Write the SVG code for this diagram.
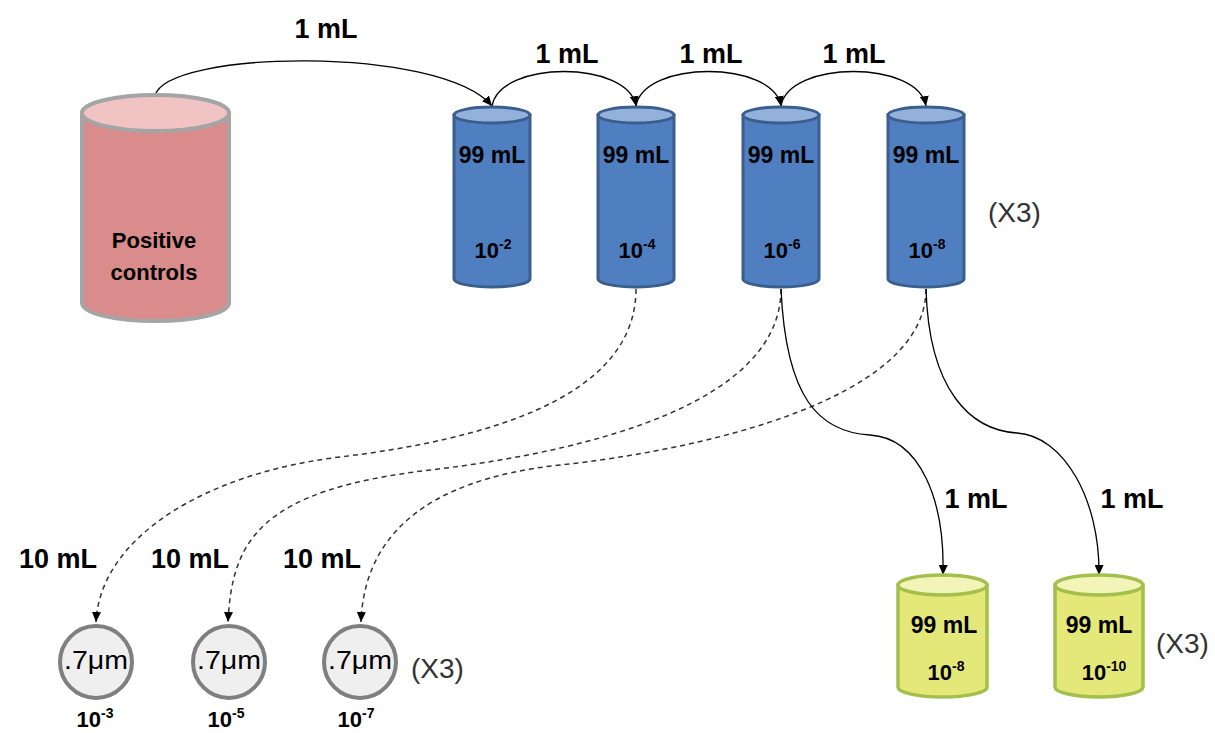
<svg xmlns="http://www.w3.org/2000/svg" width="1215" height="733" viewBox="0 0 1215 733">
<defs>
<marker id="arr" markerUnits="userSpaceOnUse" markerWidth="11" markerHeight="9" refX="10" refY="4.5" orient="auto">
<path d="M0,0 L10,4.5 L0,9 z" fill="#000"/>
</marker>
<style>
text{font-family:"Liberation Sans",Arial,sans-serif;fill:#000}
.lbl{font-size:27px;font-weight:bold;text-anchor:middle}
.vol{font-size:23px;font-weight:bold;text-anchor:middle}
.pc{font-size:22px;font-weight:bold;text-anchor:middle}
.dil{font-size:22px;font-weight:bold;text-anchor:middle}
.sup{font-size:14px}
.x3{font-size:28px;fill:#333}
.mu{font-size:25px;text-anchor:middle}
.blue .body{fill:#4f7fc0;stroke:#3a5f8e;stroke-width:3}
.blue .top{fill:#93b1db;stroke:#3a5f8e;stroke-width:3}
.yel .body{fill:#e4e878;stroke:#a3bf4c;stroke-width:3.5}
.yel .top{fill:#f2f4b8;stroke:#a3bf4c;stroke-width:3.5}
.pink .body{fill:#da8b8b;stroke:#a5a5a5;stroke-width:4}
.pink .top{fill:#f1c3c3;stroke:#a5a5a5;stroke-width:4}
.filt circle{fill:#efefef;stroke:#7f7f7f;stroke-width:4}
.c{fill:none;stroke:#000;stroke-width:1.3;marker-end:url(#arr)}
.d{fill:none;stroke:#333;stroke-width:1.5;stroke-dasharray:5,4;marker-end:url(#arr)}
</style>
</defs>

<g id="connectors">
<path class="c" d="M155,96 C165,50 440,45 492,106"/>
<path class="c" d="M492,106 C500,60 628,60 636,106"/>
<path class="c" d="M636,106 C644,60 773,60 781,106"/>
<path class="c" d="M781,106 C789,60 918,60 926,106"/>
<path class="d" d="M636,289 C636,400 480,440 340,457 C200,474 100,540 96,622"/>
<path class="d" d="M781,289 C781,400 600,450 430,470 C260,490 232,540 228,622"/>
<path class="d" d="M926,289 C926,400 700,450 560,465 C420,480 364,540 361,622"/>
<path class="c" d="M781,289 C786,400 820,432 870,435 C920,438 945,500 943,575"/>
<path class="c" d="M926,289 C929,390 970,430 1017,433 C1064,436 1100,500 1099,575"/>
</g>

<g id="labels-top">
<text class="lbl" x="326" y="38">1 mL</text>
<text class="lbl" x="567" y="63">1 mL</text>
<text class="lbl" x="711" y="63">1 mL</text>
<text class="lbl" x="854" y="63">1 mL</text>
<text class="lbl" x="976" y="508">1 mL</text>
<text class="lbl" x="1132" y="508">1 mL</text>
<text class="lbl" x="58" y="568">10 mL</text>
<text class="lbl" x="190" y="568">10 mL</text>
<text class="lbl" x="322" y="568">10 mL</text>
</g>

<g id="positive-controls" class="pink">
<path class="body" d="M82,113 L82,303 A73,18 0 0 0 229,303 L229,113 Z"/>
<ellipse class="top" cx="155.5" cy="113" rx="73.5" ry="18"/>
<text class="pc" x="154" y="248">Positive</text>
<text class="pc" x="154" y="280">controls</text>
</g>

<g id="tube-1e-2" class="blue">
<path class="body" d="M454,115 L454,279 A38,8 0 0 0 530,279 L530,115 Z"/>
<ellipse class="top" cx="492" cy="115" rx="38" ry="8"/>
<text class="vol" x="492" y="163">99 mL</text>
<text class="dil" x="493" y="258">10<tspan class="sup" dy="-9">-2</tspan></text>
</g>
<g id="tube-1e-4" class="blue">
<path class="body" d="M598,115 L598,279 A38,8 0 0 0 674,279 L674,115 Z"/>
<ellipse class="top" cx="636" cy="115" rx="38" ry="8"/>
<text class="vol" x="636" y="163">99 mL</text>
<text class="dil" x="637" y="258">10<tspan class="sup" dy="-9">-4</tspan></text>
</g>
<g id="tube-1e-6" class="blue">
<path class="body" d="M743,115 L743,279 A38,8 0 0 0 819,279 L819,115 Z"/>
<ellipse class="top" cx="781" cy="115" rx="38" ry="8"/>
<text class="vol" x="781" y="163">99 mL</text>
<text class="dil" x="782" y="258">10<tspan class="sup" dy="-9">-6</tspan></text>
</g>
<g id="tube-1e-8" class="blue">
<path class="body" d="M888,115 L888,279 A38,8 0 0 0 964,279 L964,115 Z"/>
<ellipse class="top" cx="926" cy="115" rx="38" ry="8"/>
<text class="vol" x="926" y="163">99 mL</text>
<text class="dil" x="927" y="258">10<tspan class="sup" dy="-9">-8</tspan></text>
</g>
<text id="x3-top" class="x3" x="988" y="222">(X3)</text>

<g id="filter-1e-3" class="filt">
<circle cx="96" cy="662" r="36"/>
<text class="mu" x="96" y="669" textLength="64" lengthAdjust="spacingAndGlyphs">.7μm</text>
<text class="dil" x="95" y="727">10<tspan class="sup" dy="-9">-3</tspan></text>
</g>
<g id="filter-1e-5" class="filt">
<circle cx="229" cy="662" r="36"/>
<text class="mu" x="229" y="669" textLength="64" lengthAdjust="spacingAndGlyphs">.7μm</text>
<text class="dil" x="226" y="727">10<tspan class="sup" dy="-9">-5</tspan></text>
</g>
<g id="filter-1e-7" class="filt">
<circle cx="360" cy="662" r="36"/>
<text class="mu" x="360" y="669" textLength="64" lengthAdjust="spacingAndGlyphs">.7μm</text>
<text class="dil" x="356" y="727">10<tspan class="sup" dy="-9">-7</tspan></text>
</g>
<text id="x3-filters" class="x3" x="411" y="678">(X3)</text>

<g id="tube-y-1e-8" class="yel">
<path class="body" d="M898,585 L898,687 A44,10 0 0 0 987,687 L987,585 Z"/>
<ellipse class="top" cx="942.5" cy="585" rx="44.5" ry="10"/>
<text class="vol" x="944" y="633">99 mL</text>
<text class="dil" x="946" y="680">10<tspan class="sup" dy="-9">-8</tspan></text>
</g>
<g id="tube-y-1e-10" class="yel">
<path class="body" d="M1055,585 L1055,687 A44,10 0 0 0 1143,687 L1143,585 Z"/>
<ellipse class="top" cx="1099" cy="585" rx="44" ry="10"/>
<text class="vol" x="1099" y="633">99 mL</text>
<text class="dil" x="1104" y="680">10<tspan class="sup" dy="-9">-10</tspan></text>
</g>
<text id="x3-yellow" class="x3" x="1156" y="653">(X3)</text>
</svg>
